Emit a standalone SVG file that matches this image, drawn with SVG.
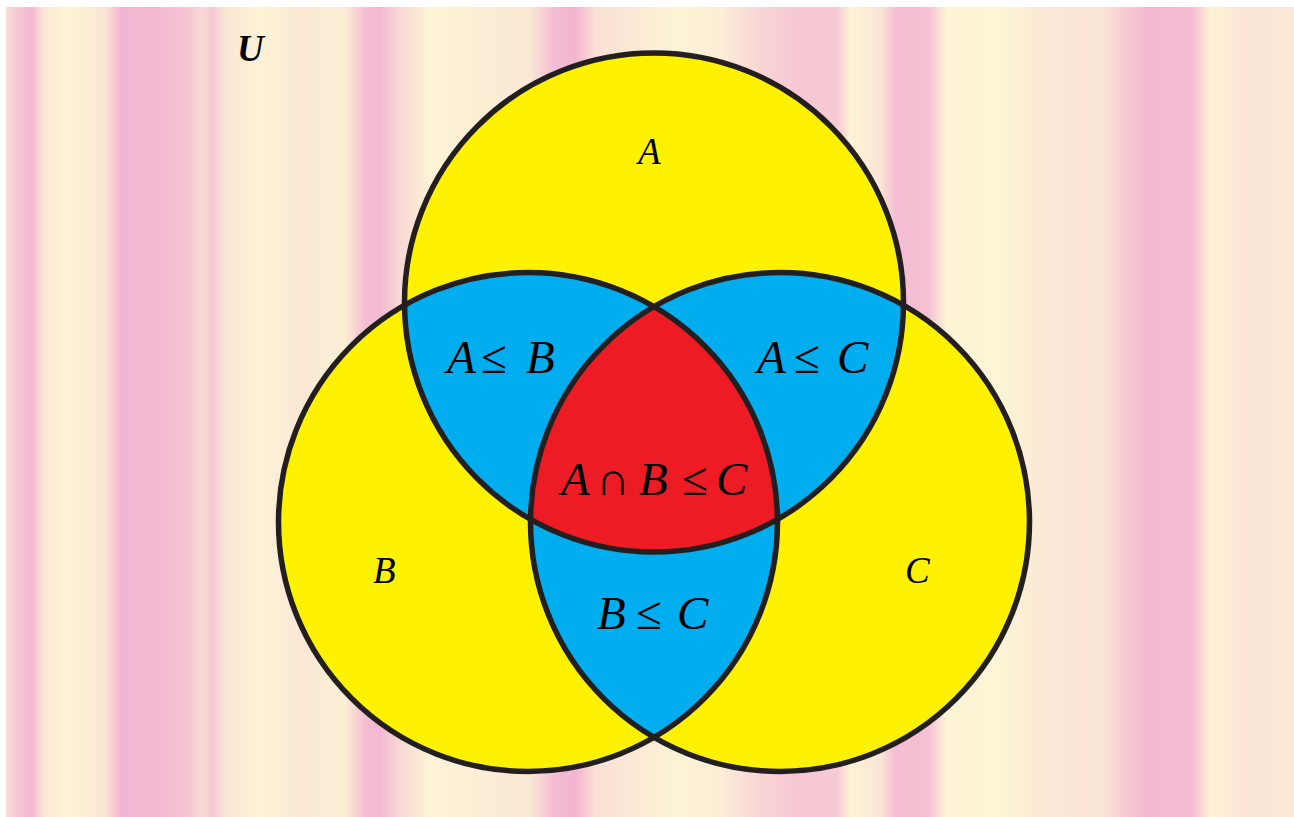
<svg xmlns="http://www.w3.org/2000/svg" width="1294" height="817" viewBox="0 0 1294 817">
<style>
.lbl{font-family:"Liberation Serif","Times New Roman",serif;fill:#000000}
.big{font-size:47px}
.sm{font-size:37px}
.i{font-style:italic}
.out{fill:none;stroke:#231f20;stroke-width:5.5}
.yel{fill:#fff200}
.blu{fill:#00aeef}
.red{fill:#ed1c24}
</style>
<defs>
<linearGradient id="bg" gradientUnits="userSpaceOnUse" x1="6" y1="0" x2="1294" y2="0">
<stop offset="0" stop-color="#f8dcd5"/>
<stop offset="0.011" stop-color="#f4c4d4"/>
<stop offset="0.020" stop-color="#f3b8d2"/>
<stop offset="0.030" stop-color="#fbe8d5"/>
<stop offset="0.050" stop-color="#fdf4d5"/>
<stop offset="0.077" stop-color="#fbe5d5"/>
<stop offset="0.089" stop-color="#f3b6d2"/>
<stop offset="0.112" stop-color="#f3b8d2"/>
<stop offset="0.139" stop-color="#f5c2d3"/>
<stop offset="0.151" stop-color="#f8d8d4"/>
<stop offset="0.161" stop-color="#f6cad3"/>
<stop offset="0.170" stop-color="#fbe6d5"/>
<stop offset="0.197" stop-color="#fdf3d5"/>
<stop offset="0.228" stop-color="#fbe8d5"/>
<stop offset="0.263" stop-color="#fcefd5"/>
<stop offset="0.279" stop-color="#f4bdd3"/>
<stop offset="0.290" stop-color="#f3b8d2"/>
<stop offset="0.306" stop-color="#f8d8d5"/>
<stop offset="0.329" stop-color="#fdf3d5"/>
<stop offset="0.360" stop-color="#fcefd5"/>
<stop offset="0.407" stop-color="#fbe8d5"/>
<stop offset="0.425" stop-color="#f4bdd2"/>
<stop offset="0.442" stop-color="#f3b4d0"/>
<stop offset="0.458" stop-color="#fae0d5"/>
<stop offset="0.484" stop-color="#fbe8d5"/>
<stop offset="0.523" stop-color="#fdf4d5"/>
<stop offset="0.554" stop-color="#fcedd5"/>
<stop offset="0.585" stop-color="#f8d5d5"/>
<stop offset="0.612" stop-color="#f6c8d3"/>
<stop offset="0.645" stop-color="#f6c9d3"/>
<stop offset="0.656" stop-color="#fdf3d5"/>
<stop offset="0.679" stop-color="#fbe5d5"/>
<stop offset="0.691" stop-color="#f4bdd3"/>
<stop offset="0.716" stop-color="#f4c0d3"/>
<stop offset="0.730" stop-color="#fdf3d5"/>
<stop offset="0.772" stop-color="#fdf5d5"/>
<stop offset="0.807" stop-color="#fbe8d5"/>
<stop offset="0.850" stop-color="#fbe6d5"/>
<stop offset="0.873" stop-color="#f6c6d3"/>
<stop offset="0.888" stop-color="#f3b8d2"/>
<stop offset="0.921" stop-color="#f4bcd3"/>
<stop offset="0.935" stop-color="#fdf3d5"/>
<stop offset="0.958" stop-color="#fbe6d5"/>
<stop offset="1" stop-color="#fce8d5"/>
</linearGradient>
<circle id="cA" cx="654" cy="302.5" r="249.5"/>
<circle id="cB" cx="528" cy="522" r="249.5"/>
<circle id="cC" cx="780" cy="522" r="249.5"/>
<clipPath id="clipA"><use href="#cA"/></clipPath>
<clipPath id="clipB"><use href="#cB"/></clipPath>
<clipPath id="clipC"><use href="#cC"/></clipPath>
</defs>
<rect x="0" y="0" width="1294" height="817" fill="#ffffff"/>
<rect x="6" y="7" width="1288" height="810" fill="url(#bg)"/>
<g id="universe">
<text class="lbl sm" x="237" y="61" font-weight="bold" font-style="italic">U</text>
</g>
<g id="set-A">
<use href="#cA" class="yel"/>
</g>
<g id="set-B">
<use href="#cB" class="yel"/>
</g>
<g id="set-C">
<use href="#cC" class="yel"/>
</g>
<g id="region-AB">
<g clip-path="url(#clipA)"><use href="#cB" class="blu"/></g>
</g>
<g id="region-AC">
<g clip-path="url(#clipA)"><use href="#cC" class="blu"/></g>
</g>
<g id="region-BC">
<g clip-path="url(#clipB)"><use href="#cC" class="blu"/></g>
</g>
<g id="region-ABC">
<g clip-path="url(#clipA)"><g clip-path="url(#clipB)"><use href="#cC" class="red"/></g></g>
</g>
<g id="outlines">
<use href="#cA" class="out"/>
<use href="#cB" class="out"/>
<use href="#cC" class="out"/>
</g>
<g id="labels">
<text class="lbl sm i" x="638" y="164">A</text>
<text class="lbl sm i" x="373" y="583">B</text>
<text class="lbl sm i" x="905" y="583">C</text>
<text class="lbl big" y="373"><tspan class="i" x="447">A</tspan><tspan x="481">≤</tspan><tspan class="i" x="526">B</tspan></text>
<text class="lbl big" y="373"><tspan class="i" x="757">A</tspan><tspan x="794">≤</tspan><tspan class="i" x="837">C</tspan></text>
<text class="lbl big" y="495"><tspan class="i" x="561">A</tspan><tspan x="596">∩</tspan><tspan class="i" x="639">B</tspan><tspan x="682">≤</tspan><tspan class="i" x="716">C</tspan></text>
<text class="lbl big" y="629"><tspan class="i" x="597">B</tspan><tspan x="636">≤</tspan><tspan class="i" x="677">C</tspan></text>
</g>
</svg>
